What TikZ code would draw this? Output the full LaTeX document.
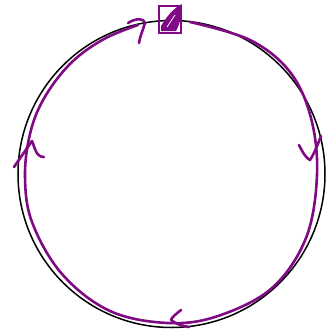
\documentclass[tikz,border=0pt]{standalone}
\usepackage{tikz}
\usetikzlibrary{positioning,calc}
\definecolor{cP}{HTML}{7F0A84}
\tikzset{
  ring/.style={draw=black,line width=1.5pt},
  loopline/.style={draw=cP,line width=2.6pt,line cap=round,line join=round},
  chev/.style={draw=cP,line width=2.6pt,line cap=round,line join=round},
  mark box/.style={draw=cP,line width=2.4pt,minimum width=22pt,minimum height=27pt,inner sep=0pt},
}
\begin{document}
\begin{tikzpicture}[x=1pt,y=-1pt]
  \useasboundingbox (0,0) rectangle (331,333);
  % the circle
  \node[ring,circle,minimum size=307pt,inner sep=0pt] (orbit) at (171.5,174) {};
  % the marked point on top
  \node[mark box] (start) at (170,19.5) {};
  \fill[cP] (161,31) -- (161,26) .. controls (166,18) and (172,9) .. (182,4)
    .. controls (182,14) and (180,24) .. (176,31) -- cycle;
  \draw[white,line width=0.8pt] (167,27) -- (175,15);
  % the loop, drawn round clockwise
  \draw[loopline] plot[smooth,tension=0.6] coordinates {
    (190,22) (250,40) (290,72) (311,118) (317,175) (306,238) (272,288)
    (218,316) (168,323) (110,311) (62,274) (32,222) (25,175) (31,130)
    (46,95) (72,62) (104,39) (138,25)};
  % arrow marks along the loop
  \draw[chev] (128,23) .. controls (136,18) and (144,18) .. (145,23)
    .. controls (143,30) and (140,36) .. (139,43);
  \draw[chev] (14,167) -- (32,141) .. controls (35,148) and (36,157) .. (44,157);
  \draw[chev] (299,145) .. controls (303,153) and (306,158) .. (310,160)
    .. controls (315,152) and (318,144) .. (321,136);
  \draw[chev] (181,310) .. controls (176,314) and (172,317) .. (171,320)
    .. controls (176,324) and (182,326) .. (189,327);
\end{tikzpicture}
\end{document}
